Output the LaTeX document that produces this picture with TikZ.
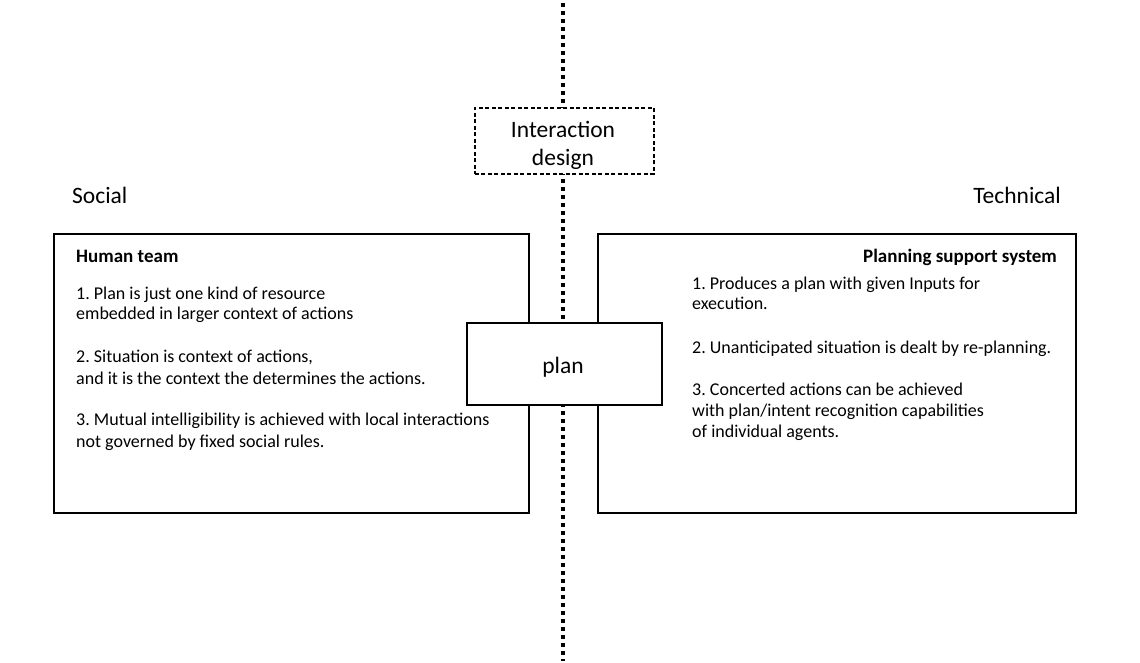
\documentclass[tikz,border=0pt]{standalone}
\usepackage{fontspec}
\setmainfont{Carlito}
\frenchspacing
\begin{document}
\begin{tikzpicture}[x=1pt,y=-1pt,
  box/.style={draw, line width=1.5pt, fill=white, inner sep=0pt, anchor=north west},
  dbox/.style={box, dash pattern=on 4pt off 2.5pt},
  body/.style={anchor=base west, inner sep=0pt, font=\fontsize{18}{22}\selectfont},
  head/.style={inner sep=0pt, font=\fontsize{19}{23}\selectfont\bfseries},
  big/.style={inner sep=0pt, font=\fontsize{23.5}{28}\selectfont},
  axis/.style={line width=3.2pt, dash pattern=on 3.5pt off 4.5pt}]
\useasboundingbox (0,0) rectangle (1140,662);
\coordinate (top) at (563,3);
\coordinate (bot) at (563,661);
\draw[axis] (top) -- (bot);

% side labels
\node[big, anchor=base west] (social) at (72,203) {Social};
\node[big, anchor=base east] (technical) at (1061,203) {Technical};

% interaction design
\node[dbox, minimum width=179pt, minimum height=66pt] (idesign) at (474,107) {};
\node[big, anchor=base] (id1) at (563,137) {Interaction};
\node[big, anchor=base] (id2) at (563,165) {design};

% left box
\node[box, minimum width=475pt, minimum height=279pt] (human) at (53,233) {};
\node[head, anchor=base west] (hh) at (76,262) {Human team};
\node[body] (l1) at (76,299) {1. Plan is just one kind of resource};
\node[body] (l2) at (76,319) {embedded in larger context of actions};
\node[body] (l3) at (76,362) {2. Situation is context of actions,};
\node[body] (l4) at (76,384) {and it is the context the determines the actions.};
\node[body] (l5) at (76,425) {3. Mutual intelligibility is achieved with local interactions};
\node[body] (l6) at (76,447) {not governed by fixed social rules.};

% right box
\node[box, minimum width=478pt, minimum height=279pt] (pss) at (597,233) {};
\node[head, anchor=base east] (ph) at (1057,262) {Planning support system};
\node[body] (r1) at (692,289) {1. Produces a plan with given Inputs for};
\node[body] (r2) at (692,309) {execution.};
\node[body] (r3) at (692,353) {2. Unanticipated situation is dealt by re-planning.};
\node[body] (r4) at (692,395) {3. Concerted actions can be achieved};
\node[body] (r5) at (692,416) {with plan/intent recognition capabilities};
\node[body] (r6) at (692,437) {of individual agents.};

% plan
\node[box, minimum width=195pt, minimum height=82pt] (plan) at (466,322) {};
\node[big, anchor=base] (plantext) at (563,373) {plan};
\end{tikzpicture}
\end{document}
